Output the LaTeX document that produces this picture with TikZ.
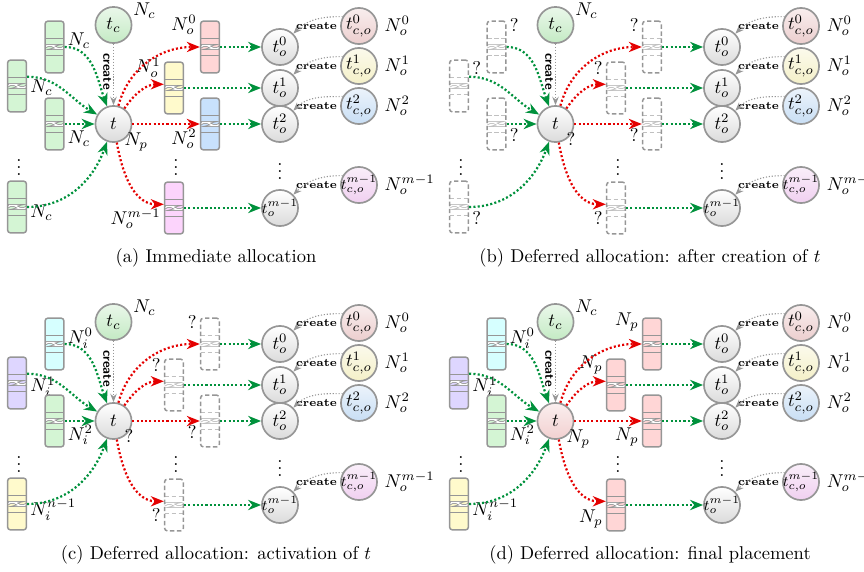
\documentclass[tikz,border=0pt]{standalone}
\usetikzlibrary{arrows.meta,positioning}

\definecolor{linegray}{RGB}{150,150,150}
\definecolor{flowgreen}{RGB}{0,145,60}
\definecolor{flowred}{RGB}{228,0,0}
\definecolor{bufgreen}{RGB}{212,245,212}
\definecolor{bufred}{RGB}{255,214,214}
\definecolor{bufyellow}{RGB}{255,250,204}
\definecolor{bufblue}{RGB}{200,225,252}
\definecolor{bufpink}{RGB}{252,212,252}
\definecolor{bufcyan}{RGB}{214,255,255}
\definecolor{bufviolet}{RGB}{222,214,255}
\definecolor{tcgreen}{RGB}{196,234,196}
\definecolor{tcored}{RGB}{236,206,206}
\definecolor{tcoyellow}{RGB}{244,240,200}
\definecolor{tcoblue}{RGB}{200,222,244}
\definecolor{tcopink}{RGB}{240,208,240}
\definecolor{tred}{RGB}{242,208,208}

% dividers and the break mark inside a buffer
\newcommand{\bufmarks}[2]{%
  \draw[#2, line width=0.8pt, #1]
    ([yshift=4.7pt]path picture bounding box.west) -- ([yshift=4.7pt]path picture bounding box.east)
    ([yshift=-4.7pt]path picture bounding box.west) -- ([yshift=-4.7pt]path picture bounding box.east);
  \draw[#2, line width=1.5pt, solid]
    (path picture bounding box.west) sin ++(2.6pt,0.8pt) cos ++(2.6pt,-0.8pt) sin ++(2.6pt,-0.8pt) cos ++(2.6pt,0.8pt);
  \draw[white, line width=0.6pt, solid]
    (path picture bounding box.west) sin ++(2.6pt,0.8pt) cos ++(2.6pt,-0.8pt) sin ++(2.6pt,-0.8pt) cos ++(2.6pt,0.8pt);
}

\tikzset{
  task/.style={circle, draw=linegray, line width=0.9pt, minimum size=19.5pt, inner sep=0pt},
  plaintask/.style={task, top color=white, bottom color=gray!28},
  tinted/.style={task, top color=#1!35!white, bottom color=#1},
  widetask/.style={font=\fontsize{8.2}{9}\selectfont},
  bufbox/.style={rectangle, draw=linegray, line width=0.8pt, rounded corners=1.6pt,
    minimum width=10.2pt, minimum height=28pt, inner sep=0pt},
  buffer/.style={bufbox, fill=#1, path picture={\bufmarks{solid}{linegray}}},
  openbuf/.style={bufbox, dash pattern=on 2.4pt off 1.4pt,
    path picture={\bufmarks{dash pattern=on 2.4pt off 1.4pt}{linegray!60}}},
  inflow/.style={flowgreen, line width=1.2pt, dash pattern=on 1.1pt off 1.2pt,
    -{Stealth[length=7pt,width=5.5pt,inset=2.2pt]}},
  outflow/.style={inflow, flowred},
  createflow/.style={linegray, line width=0.6pt, densely dotted,
    -{Stealth[length=4.5pt,width=3.5pt,inset=1.5pt]}},
  createtxt/.style={font=\fontsize{6}{7}\selectfont\bfseries, inner sep=1pt, text=black},
  createup/.style={createtxt, font=\fontsize{7}{8}\selectfont\sffamily\bfseries, rotate=-90},
}

% parts that are the same in all four panels
\newcommand{\panelcore}[1]{%
  \node[tinted=tcgreen, label={[label distance=-1pt]12:$N_c$}] (#1-tc) at (113.5,-25) {$t_c$};
  \node[plaintask] (#1-to0) at (280,-47) {$t_o^0$};
  \node[plaintask] (#1-to1) at (280,-88) {$t_o^1$};
  \node[plaintask] (#1-to2) at (280,-124) {$t_o^2$};
  \node[plaintask, widetask] (#1-tolast) at (280,-208) {\makebox[0pt]{$t_o^{m-1}$}};
  \node[tinted=tcored, label={[label distance=2pt]east:$N_o^0$}] (#1-tco0) at (359,-26) {$t_{c,o}^0$};
  \node[tinted=tcoyellow, label={[label distance=2pt]east:$N_o^1$}] (#1-tco1) at (359,-66) {$t_{c,o}^1$};
  \node[tinted=tcoblue, label={[label distance=2pt]east:$N_o^2$}] (#1-tco2) at (359,-106) {$t_{c,o}^2$};
  \node[tinted=tcopink, widetask, label={[label distance=2pt, font=\normalsize]east:$N_o^{m-1}$}] (#1-tcolast) at (359,-185) {\makebox[0pt]{$t_{c,o}^{m-1}$}};
  \foreach \k in {0,1,2,last}
    \node[createtxt, left=0.5pt of #1-tco\k] (#1-cr\k) {create};
  \node (#1-vdl) at (19,-162) {$\vdots$};
  \node (#1-vdm) at (176,-162) {$\vdots$};
  \node (#1-vdr) at (280,-166) {$\vdots$};
  % creation
  \draw[createflow] (#1-tc) -- node[createup, below, pos=0.45] (#1-crt) {create} (#1-t);
  \foreach \k in {0,1,2,last}
    \draw[createflow] (#1-tco\k.150) to[out=180,in=45] (#1-to\k);
  % inputs of t
  \draw[inflow] (#1-in0) to[out=0,in=110] (#1-t);
  \draw[inflow] ([yshift=5pt]#1-in1.east) to[out=0,in=150] (#1-t);
  \draw[inflow] (#1-in2) -- (#1-t);
  \draw[inflow] (#1-inlast) to[out=0,in=250] (#1-t);
  % outputs of t
  \draw[outflow] (#1-t) to[out=75,in=180] (#1-out0);
  \draw[outflow] (#1-t) to[out=55,in=180] ([yshift=2pt]#1-out1.west);
  \draw[outflow] (#1-t) -- (#1-out2);
  \draw[outflow] (#1-t) to[out=-80,in=180] ([yshift=2pt]#1-outlast.west);
  \foreach \k in {0,1,2,last}
    \draw[inflow] (#1-out\k) -- (#1-to\k);
}

\begin{document}
\begin{tikzpicture}[x=0.54pt,y=0.54pt,every label/.style={inner sep=1.5pt}]
\useasboundingbox (0,0) rectangle (864,-572);

% (a)
\begin{scope}
  \node[buffer=bufgreen, label={[yshift=3.5pt]east:$N_c$}] (a-in0) at (54.5,-47) {};
  \node[buffer=bufgreen, label={[yshift=-1pt]east:$N_c$}] (a-in1) at (17,-86) {};
  \node[buffer=bufgreen, label={[yshift=-8pt]east:$N_c$}] (a-in2) at (54.5,-124) {};
  \node[buffer=bufgreen, label={[yshift=-3pt]east:$N_c$}] (a-inlast) at (17,-207) {};
  \node[plaintask, label={[label distance=-5pt]-35:$N_p$}] (a-t) at (113.5,-124) {$t$};
  \node[buffer=bufred, label={[yshift=12pt]west:$N_o^0$}] (a-out0) at (210,-47) {};
  \node[buffer=bufyellow, label={[yshift=11pt]west:$N_o^1$}] (a-out1) at (174,-88) {};
  \node[buffer=bufblue, label={[yshift=-8pt]west:$N_o^2$}] (a-out2) at (210,-124) {};
  \node[buffer=bufpink, label={[yshift=-6pt]west:$N_o^{m-1}$}] (a-outlast) at (174,-208) {};
  \panelcore{a}
\end{scope}
\node (capa) at (216,-258) {(a) Immediate allocation};

% (b)
\begin{scope}[shift={(442,0)}]
  \node[openbuf, label={[yshift=12pt]east:?}] (b-in0) at (54.5,-47) {};
  \node[openbuf, label={[yshift=10pt]east:?}] (b-in1) at (17,-86) {};
  \node[openbuf, label={[yshift=-6pt]east:?}] (b-in2) at (54.5,-124) {};
  \node[openbuf, label={[yshift=-6pt]east:?}] (b-inlast) at (17,-207) {};
  \node[plaintask, label={[label distance=-5pt]-35:?}] (b-t) at (113.5,-124) {$t$};
  \node[openbuf, label={[yshift=12pt]west:?}] (b-out0) at (210,-47) {};
  \node[openbuf, label={[yshift=11pt]west:?}] (b-out1) at (174,-88) {};
  \node[openbuf, label={[yshift=-6pt]west:?}] (b-out2) at (210,-124) {};
  \node[openbuf, label={[yshift=-5.5pt]west:?}] (b-outlast) at (174,-208) {};
  \panelcore{b}
\end{scope}
\node (capb) at (650,-258) {(b) Deferred allocation: after creation of $t$};

% (c)
\begin{scope}[shift={(0,-297)}]
  \node[buffer=bufcyan, label={[yshift=3pt]east:$N_i^0$}] (c-in0) at (54.5,-47) {};
  \node[buffer=bufviolet, label={[yshift=-2pt]east:$N_i^1$}] (c-in1) at (17,-86) {};
  \node[buffer=bufgreen, label={[yshift=-7.5pt]east:$N_i^2$}] (c-in2) at (54.5,-124) {};
  \node[buffer=bufyellow, label={[yshift=-3pt]east:$N_i^{n-1}$}] (c-inlast) at (17,-207) {};
  \node[plaintask, label={[label distance=-5pt]-35:?}] (c-t) at (113.5,-124) {$t$};
  \node[openbuf, label={[yshift=12pt]west:?}] (c-out0) at (210,-47) {};
  \node[openbuf, label={[yshift=11pt]west:?}] (c-out1) at (174,-88) {};
  \node[openbuf, label={[yshift=-6pt]west:?}] (c-out2) at (210,-124) {};
  \node[openbuf, label={[yshift=-5.5pt]west:?}] (c-outlast) at (174,-208) {};
  \panelcore{c}
\end{scope}
\node (capc) at (216,-555) {(c) Deferred allocation: activation of $t$};

% (d)
\begin{scope}[shift={(442,-297)}]
  \node[buffer=bufcyan, label={[yshift=3pt]east:$N_i^0$}] (d-in0) at (54.5,-47) {};
  \node[buffer=bufviolet, label={[yshift=-2pt]east:$N_i^1$}] (d-in1) at (17,-86) {};
  \node[buffer=bufgreen, label={[yshift=-7.5pt]east:$N_i^2$}] (d-in2) at (54.5,-124) {};
  \node[buffer=bufyellow, label={[yshift=-3pt]east:$N_i^{n-1}$}] (d-inlast) at (17,-207) {};
  \node[tinted=tred, label={[label distance=-5pt]-35:$N_p$}] (d-t) at (113.5,-124) {$t$};
  \node[buffer=bufred, label={[yshift=12pt]west:$N_p$}] (d-out0) at (210,-47) {};
  \node[buffer=bufred, label={[yshift=11pt]west:$N_p$}] (d-out1) at (174,-88) {};
  \node[buffer=bufred, label={[yshift=-8.5pt]west:$N_p$}] (d-out2) at (210,-124) {};
  \node[buffer=bufred, label={[yshift=-7.5pt]west:$N_p$}] (d-outlast) at (174,-208) {};
  \panelcore{d}
\end{scope}
\node (capd) at (650,-555) {(d) Deferred allocation: final placement};
\end{tikzpicture}
\end{document}
